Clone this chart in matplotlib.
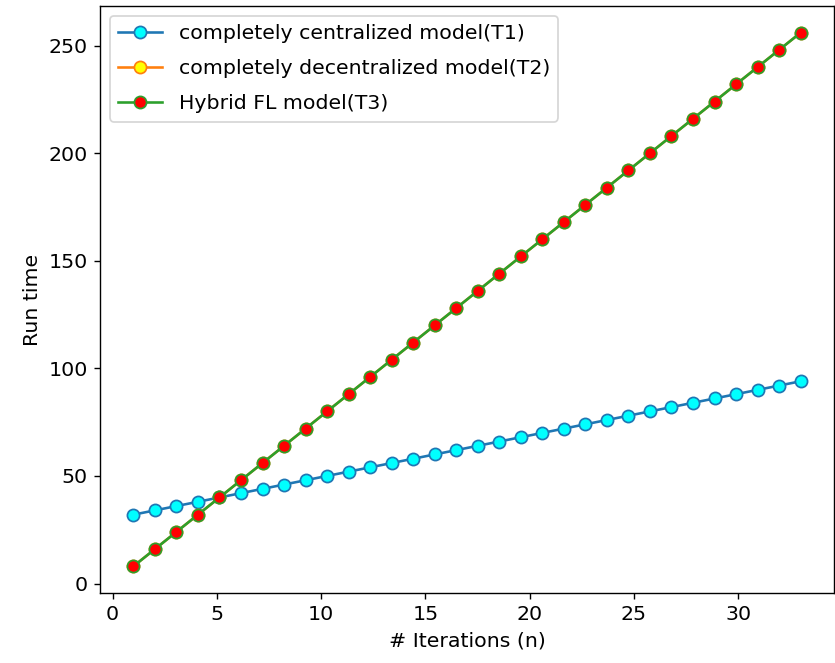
import matplotlib
matplotlib.use("Agg")
import matplotlib.pyplot as plt
import numpy as np

iterations = np.linspace(1, 33, 32)
t1_centralized = [30 + 2 * k for k in range(1, 33)]
t2_decentralized = [8 * k for k in range(1, 33)]
t3_hybrid = [8 * k for k in range(1, 33)]

plt.rcParams['font.size'] = 11.8
dpi = 125
fig = plt.figure(figsize=(835 / dpi, 663 / dpi), dpi=dpi)
ax = fig.add_axes([100 / 835, 70 / 663, 734 / 835, 587 / 663])

ax.plot(iterations, t1_centralized, marker='o', markerfacecolor='cyan', markersize=7,
        label='completely centralized model(T1)')
ax.plot(iterations, t2_decentralized, marker='o', markerfacecolor='yellow', markersize=7,
        label='completely decentralized model(T2)')
ax.plot(iterations, t3_hybrid, marker='o', markerfacecolor='red', markersize=7,
        label='Hybrid FL model(T3)')

ax.set_xlabel('# Iterations (n)')
ax.set_ylabel('Run time')
ax.legend(loc='upper left', labelspacing=0.78, handlelength=2.15)

fig.savefig('out.png', dpi=dpi)
